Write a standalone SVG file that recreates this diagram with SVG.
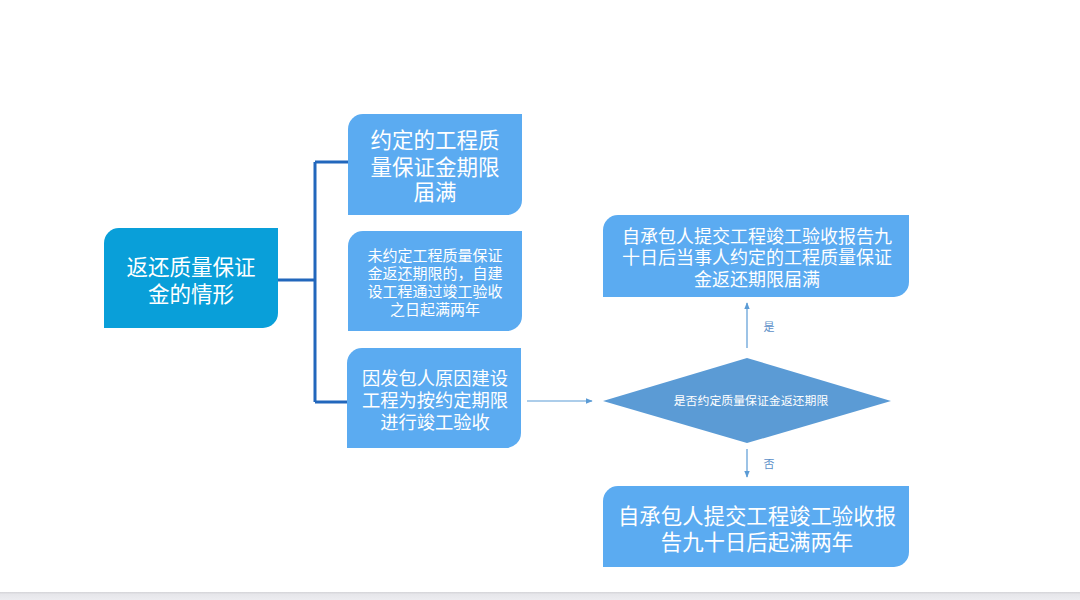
<svg xmlns="http://www.w3.org/2000/svg" width="1080" height="600" viewBox="0 0 1080 600">
<defs>
<style>
text{font-family:"Noto Sans CJK SC","Noto Sans",sans-serif;fill:#fff;text-anchor:middle;dominant-baseline:central}
.box{fill:#5BABF1}
.lbl{fill:#5B8FC8;font-size:11px}
.arr{stroke:#5B9BD5;stroke-width:1.2;fill:none}
</style>
<marker id="ah" viewBox="0 0 10 10" refX="9" refY="5" markerWidth="7" markerHeight="7" orient="auto" markerUnits="userSpaceOnUse">
<path d="M0,1 L10,5 L0,9 Z" fill="#5B9BD5"/>
</marker>
<linearGradient id="bar" x1="0" y1="0" x2="0" y2="1">
<stop offset="0" stop-color="#d4d4d8"/>
<stop offset="0.3" stop-color="#e6e6ea"/>
<stop offset="1" stop-color="#ececf0"/>
</linearGradient>
</defs>
<rect width="1080" height="600" fill="#fff"/>
<rect x="0" y="592" width="1080" height="8" fill="url(#bar)"/>

<g id="connectors">
<path d="M278,280 H315 M315,162 V402 M315,162 H348 M315,402 H348" stroke="#2267BC" stroke-width="3" fill="none"/>
<line class="arr" x1="527" y1="401" x2="592" y2="401" marker-end="url(#ah)"/>
<line class="arr" x1="747" y1="348" x2="747" y2="303" marker-end="url(#ah)"/>
<line class="arr" x1="747" y1="449" x2="747" y2="477" marker-end="url(#ah)"/>
<text class="lbl" x="769" y="326">是</text>
<text class="lbl" x="769" y="463">否</text>
</g>

<g id="main">
<path d="M119,228 H278 V313 A15,15 0 0 1 263,328 H104 V243 A15,15 0 0 1 119,228 Z" fill="#099FD9"/>
<text x="191" y="265" font-size="21.5">返还质量保证</text>
<text x="191" y="292" font-size="21.5">金的情形</text>
</g>

<g id="box1">
<path class="box" d="M363,114 H522 V200 A15,15 0 0 1 507,215 H348 V129 A15,15 0 0 1 363,114 Z"/>
<text x="435" y="138" font-size="21.5">约定的工程质</text>
<text x="435" y="165" font-size="21.5">量保证金期限</text>
<text x="435" y="190" font-size="21.5">届满</text>
</g>

<g id="box2">
<path class="box" d="M363,231 H522 V316 A15,15 0 0 1 507,331 H348 V246 A15,15 0 0 1 363,231 Z"/>
<text x="435" y="254" font-size="15">未约定工程质量保证</text>
<text x="435" y="272" font-size="15">金返还期限的，自建</text>
<text x="435" y="290" font-size="15">设工程通过竣工验收</text>
<text x="435" y="308" font-size="15">之日起满两年</text>
</g>

<g id="box3">
<path class="box" d="M362,348 H521 V433 A15,15 0 0 1 506,448 H347 V363 A15,15 0 0 1 362,348 Z"/>
<text x="435" y="377" font-size="18.3">因发包人原因建设</text>
<text x="435" y="399" font-size="18.3">工程为按约定期限</text>
<text x="435" y="421" font-size="18.3">进行竣工验收</text>
</g>

<g id="decision">
<polygon points="603,401 747,358 891,401 747,443" fill="#5B9BD5"/>
<text x="751" y="399" font-size="11.9">是否约定质量保证金返还期限</text>
</g>

<g id="yes-box">
<path class="box" d="M618,215 H909 V282 A15,15 0 0 1 894,297 H603 V230 A15,15 0 0 1 618,215 Z"/>
<text x="757" y="235" font-size="18">自承包人提交工程竣工验收报告九</text>
<text x="757" y="256" font-size="18">十日后当事人约定的工程质量保证</text>
<text x="757" y="278" font-size="18">金返还期限届满</text>
</g>

<g id="no-box">
<path class="box" d="M618,486 H909 V552 A15,15 0 0 1 894,567 H603 V501 A15,15 0 0 1 618,486 Z"/>
<text x="757" y="514" font-size="21.4">自承包人提交工程竣工验收报</text>
<text x="757" y="540" font-size="21.4">告九十日后起满两年</text>
</g>
</svg>
